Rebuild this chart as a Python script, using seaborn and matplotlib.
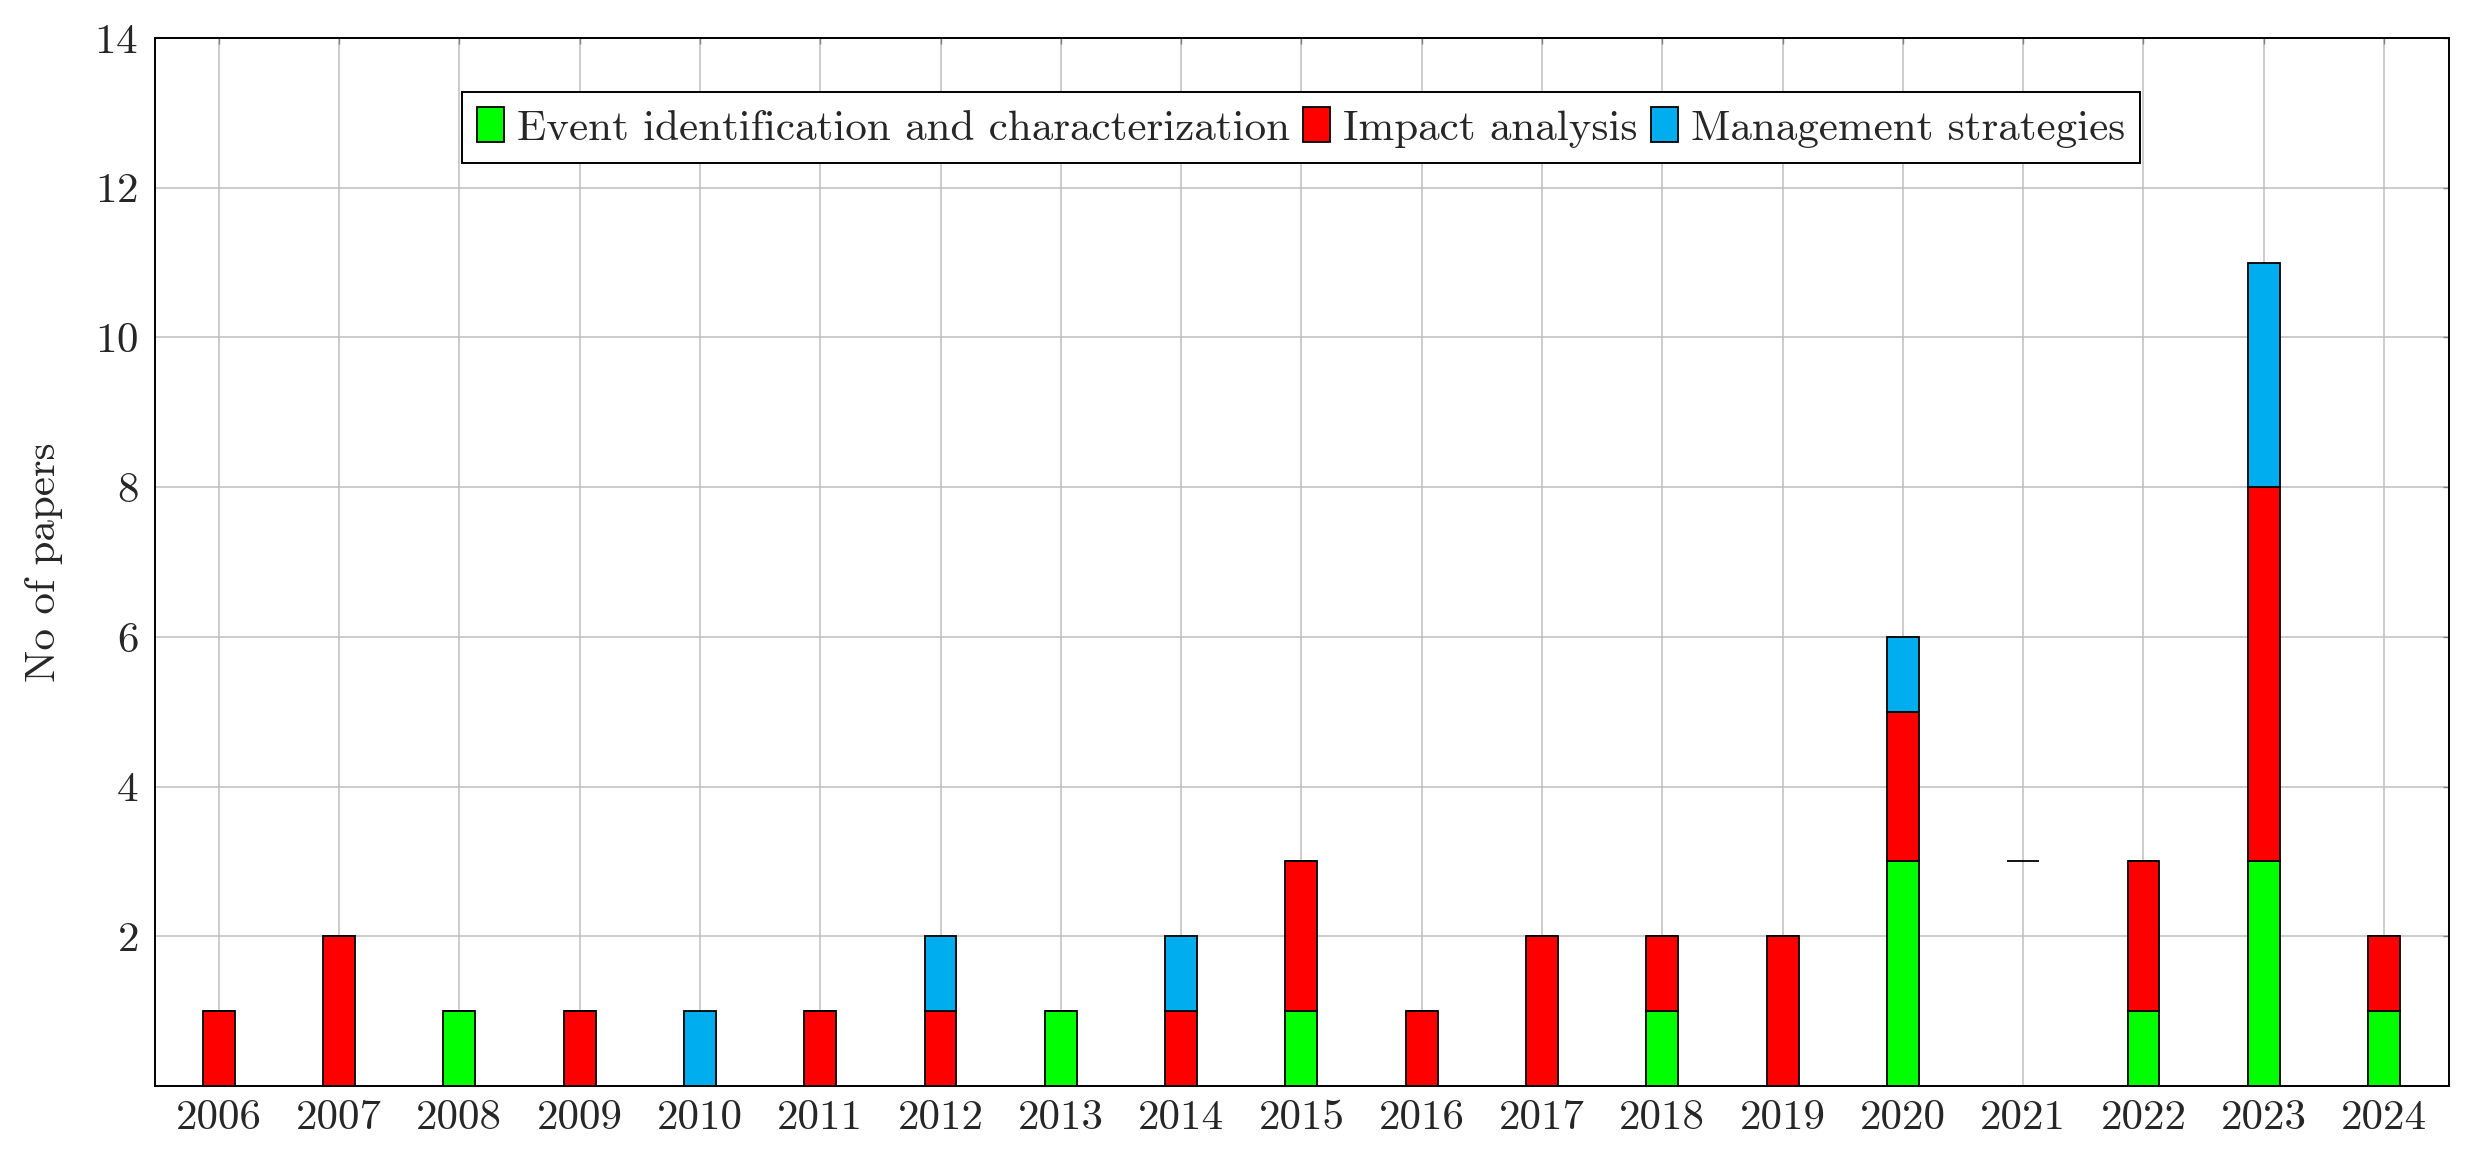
# Stacked bar chart of papers per year by research topic

import matplotlib.pyplot as plt
from matplotlib.patches import Patch
import seaborn as sns
import pandas as pd

years = list(range(2006, 2025))
event_ident = [0, 0, 1, 0, 0, 0, 0, 1, 0, 1, 0, 0, 1, 0, 3, 0, 1, 3, 1]
impact = [1, 2, 0, 1, 0, 1, 1, 0, 1, 2, 1, 2, 1, 2, 2, 0, 2, 5, 1]
management = [0, 0, 0, 0, 1, 0, 1, 0, 1, 0, 0, 0, 0, 0, 1, 0, 0, 3, 0]

# empty stack drawn at 2021 (shows as a flat line)
empty_year = [2021]
empty_level = [3]

labels = ["Event identification and characterization", "Impact analysis", "Management strategies"]
colors = ["#00FF00", "#FF0000", "#00AEEF"]

sns.set_theme(style="whitegrid")
plt.rcParams['font.family'] = ['cmr10', 'DejaVu Serif']
plt.rcParams['axes.formatter.use_mathtext'] = True
plt.rcParams['mathtext.fontset'] = 'cm'

df = pd.DataFrame({
    "year": years * 3,
    "papers": event_ident + impact + management,
    "topic": [labels[0]] * len(years) + [labels[1]] * len(years) + [labels[2]] * len(years),
})

fig = plt.figure(figsize=(24.82, 11.65), dpi=100)
ax = fig.add_axes([155 / 2482, 1 - 1086 / 1165, (2449 - 155) / 2482, (1086 - 38) / 1165])

# seaborn stacks the last hue level at the bottom
sns.histplot(data=df, x="year", weights="papers", hue="topic", hue_order=labels[::-1],
             palette=colors[::-1], multiple="stack", discrete=True, shrink=0.265,
             alpha=1, edgecolor="black", linewidth=1.3, legend=False, ax=ax)
ax.bar(empty_year, [0] * len(empty_year), bottom=empty_level, width=0.265,
       color="none", edgecolor="black", linewidth=1.3)

ax.set_xlim(2005.47, 2024.54)
ax.set_ylim(0, 14)
ax.set_xticks(years)
ax.set_xticklabels([str(y) for y in years])
ax.set_yticks(range(2, 15, 2))
ax.set_xlabel("")
ax.set_ylabel("No of papers", fontsize=31)
ax.yaxis.set_label_coords(-0.040, 0.5)

ax.set_axisbelow(True)
ax.grid(True, color="#BEBEBE", linewidth=1.1)
for s in ax.spines.values():
    s.set_color("black")
    s.set_linewidth(1.4)
ax.tick_params(axis="both", which="major", labelsize=31, direction="in", length=4,
               color="#808080", width=1.0, top=True, right=True)
ax.tick_params(axis="x", pad=10)
ax.tick_params(axis="y", pad=12)

handles = [Patch(facecolor=c, edgecolor="black", linewidth=1.3) for c in colors]
leg = ax.legend(handles, labels, loc="upper center", bbox_to_anchor=(1301 / 2482, 1 - 92 / 1165),
                bbox_transform=fig.transFigure, ncol=3, fontsize=31, frameon=True, fancybox=False,
                handlelength=0.63, handleheight=0.88, handletextpad=0.3, columnspacing=0.3,
                borderpad=0.35, borderaxespad=0)
leg.get_frame().set_edgecolor("black")
leg.get_frame().set_linewidth(1.4)
leg.get_frame().set_alpha(1)

fig.savefig("out.png", dpi=100)
